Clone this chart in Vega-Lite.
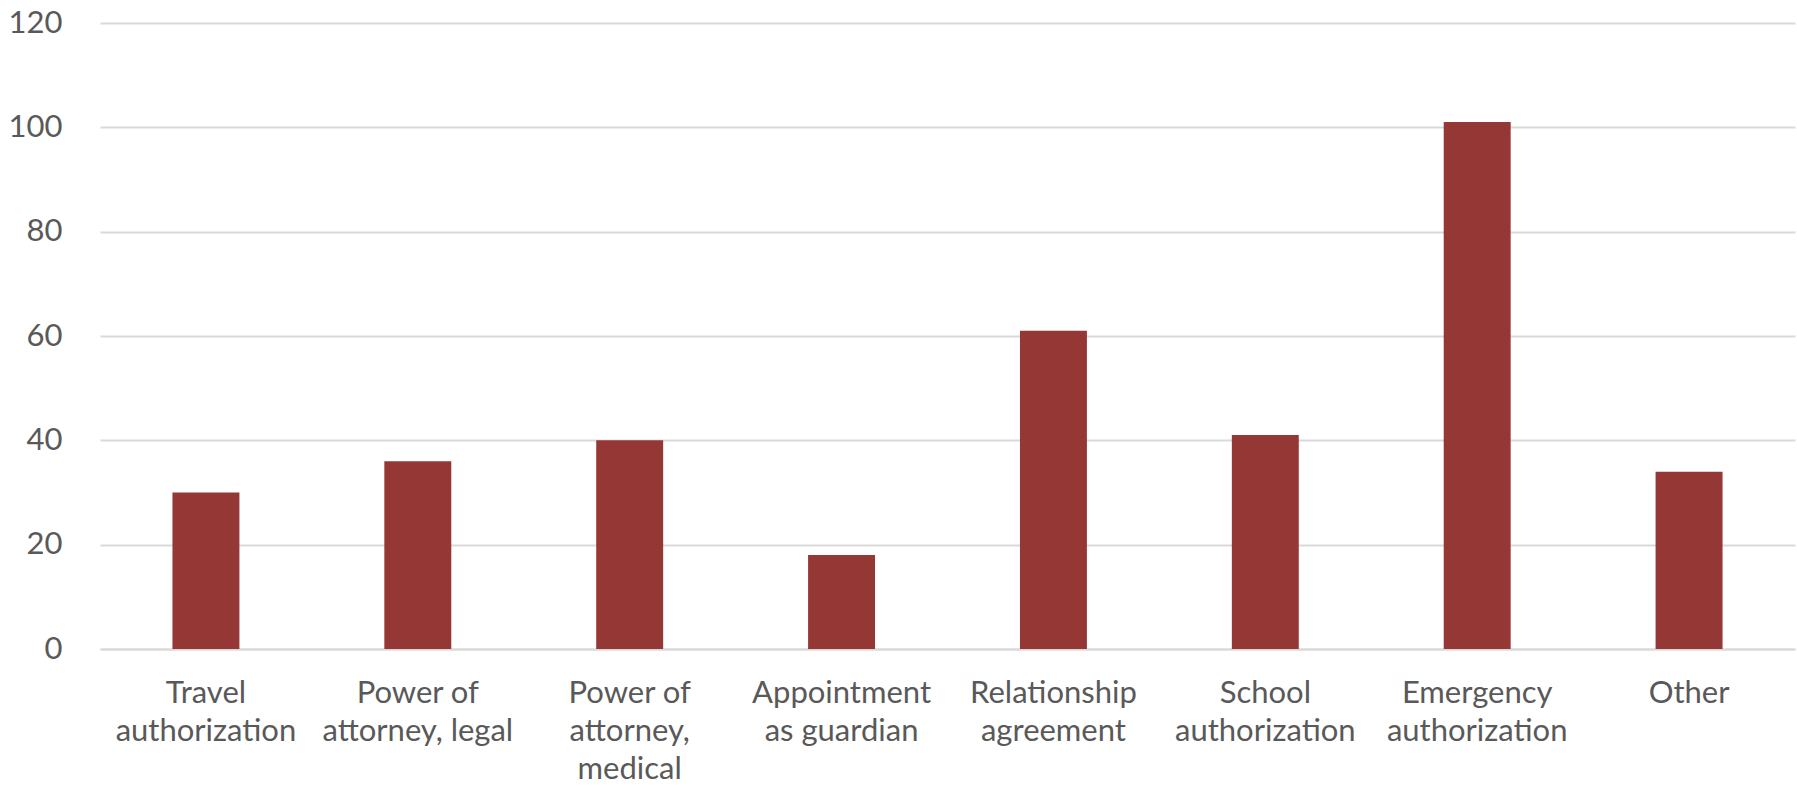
{
  "$schema": "https://vega.github.io/schema/vega-lite/v6.json",
  "width": 1695,
  "height": 626,
  "autosize": {"type": "none"},
  "padding": {"left": 100, "top": 23, "right": 2, "bottom": 141},
  "background": "white",
  "data": {
    "values": [
      {"category": "Travel\nauthorization", "count": 30},
      {"category": "Power of\nattorney, legal", "count": 36},
      {"category": "Power of\nattorney,\nmedical", "count": 40},
      {"category": "Appointment\nas guardian", "count": 18},
      {"category": "Relationship\nagreement", "count": 61},
      {"category": "School\nauthorization", "count": 41},
      {"category": "Emergency\nauthorization", "count": 101},
      {"category": "Other", "count": 34}
    ]
  },
  "mark": {"type": "bar", "color": "#953735", "width": {"band": 0.316}},
  "encoding": {
    "x": {
      "field": "category",
      "type": "nominal",
      "sort": null,
      "scale": {"paddingInner": 0, "paddingOuter": 0},
      "axis": {
        "title": null,
        "labelAngle": 0,
        "labelExpr": "split(datum.value, '\\n')",
        "labelFont": "Lato",
        "labelFontSize": 31,
        "labelColor": "#595959",
        "labelLineHeight": 38,
        "labelPadding": 29,
        "labelLimit": 0,
        "ticks": false,
        "domain": true,
        "domainColor": "#d9d9d9",
        "domainWidth": 2,
        "labelBaseline": "top"
      }
    },
    "y": {
      "field": "count",
      "type": "quantitative",
      "scale": {"domain": [0, 120]},
      "axis": {
        "title": null,
        "values": [0, 20, 40, 60, 80, 100, 120],
        "labelFont": "Lato",
        "labelFontSize": 31,
        "labelColor": "#595959",
        "labelPadding": 38,
        "ticks": false,
        "domain": false,
        "grid": true,
        "gridColor": "#d9d9d9",
        "gridWidth": 2
      }
    }
  },
  "config": {"view": {"stroke": null}}
}
